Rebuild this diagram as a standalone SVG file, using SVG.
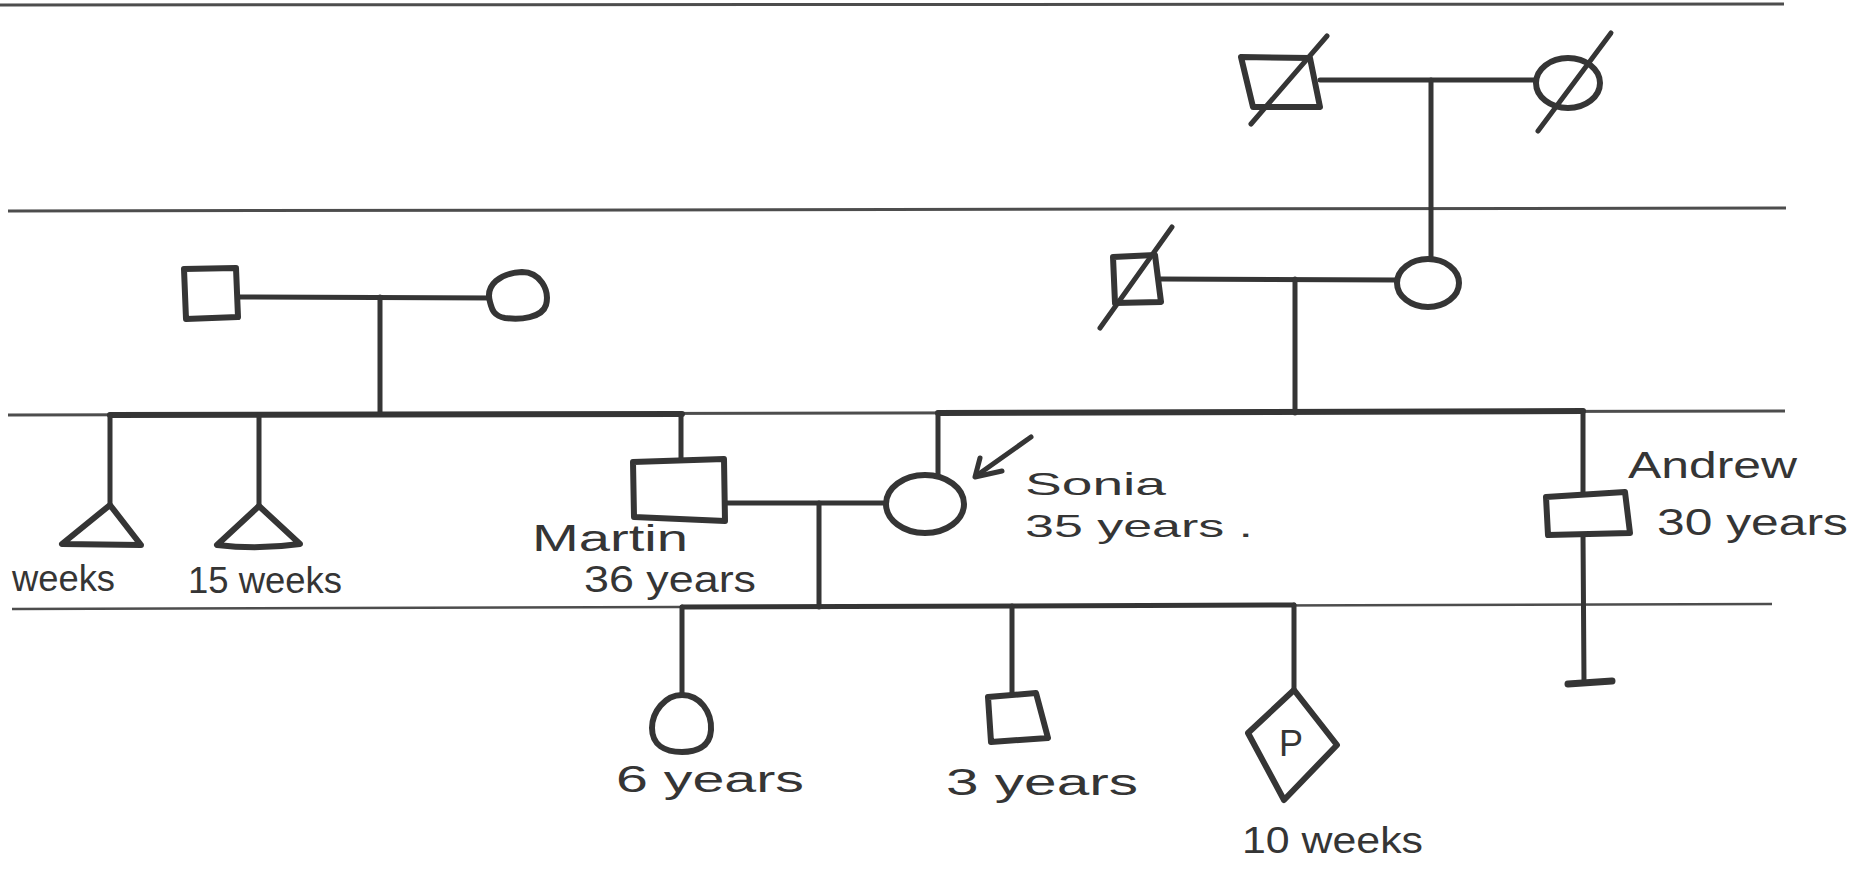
<svg xmlns="http://www.w3.org/2000/svg" width="1864" height="872" viewBox="0 0 1864 872">
<style>
.rule{stroke:#4d4d4d;stroke-width:2.5;fill:none}
.ln{stroke:#353535;stroke-width:5;fill:none;stroke-linecap:round;stroke-linejoin:round}
.sym{fill:#fff;stroke:#353535;stroke-width:6;stroke-linejoin:round;stroke-linecap:round}
.dead{stroke:#353535;stroke-width:5;stroke-linecap:round}
.txt{font-family:"Liberation Sans",Arial,sans-serif;font-size:36px;fill:#353535}
</style>
<rect width="1864" height="872" fill="#fff"/>
<g id="rules">
<line class="rule" x1="0" y1="5" x2="1784" y2="4" style="stroke-width:3"/>
<line class="rule" x1="8" y1="211" x2="1786" y2="208" style="stroke-width:3"/>
<line class="rule" x1="8" y1="415" x2="1785" y2="411" style="stroke-width:3"/>
<line class="rule" x1="12" y1="609" x2="1772" y2="604"/>
</g>
<g id="connectors">
<line class="ln" x1="1320" y1="80" x2="1540" y2="80"/>
<line class="ln" x1="1431" y1="80" x2="1431" y2="260"/>
<line class="ln" x1="237" y1="297" x2="495" y2="298"/>
<line class="ln" x1="380" y1="297" x2="380" y2="413"/>
<line class="ln" x1="1161" y1="279" x2="1398" y2="280"/>
<line class="ln" x1="1295" y1="279" x2="1295" y2="413"/>
<line class="ln" x1="110" y1="415" x2="682" y2="414" style="stroke-width:6"/>
<line class="ln" x1="110" y1="415" x2="110" y2="505"/>
<line class="ln" x1="259" y1="415" x2="259" y2="506"/>
<line class="ln" x1="681" y1="414" x2="681" y2="470"/>
<line class="ln" x1="938" y1="413" x2="1583" y2="411" style="stroke-width:6"/>
<line class="ln" x1="938" y1="413" x2="938" y2="478"/>
<line class="ln" x1="1583" y1="411" x2="1583" y2="495"/>
<line class="ln" x1="1583" y1="534" x2="1584" y2="682"/>
<line class="ln" x1="1568" y1="684" x2="1612" y2="681" style="stroke-width:7"/>
<line class="ln" x1="724" y1="503" x2="886" y2="503"/>
<line class="ln" x1="819" y1="503" x2="819" y2="607"/>
<line class="ln" x1="682" y1="607" x2="1294" y2="605" style="stroke-width:5"/>
<line class="ln" x1="682" y1="607" x2="682" y2="695"/>
<line class="ln" x1="1012" y1="606" x2="1012" y2="697"/>
<line class="ln" x1="1294" y1="605" x2="1294" y2="690"/>
<g id="proband-arrow">
<line class="ln" x1="1031" y1="437" x2="976" y2="476"/>
<polyline class="ln" points="980,458 975,477 1002,471"/>
</g>
</g>
<g id="gp-male">
<polygon class="sym" points="1241,57 1310,58 1320,107 1253,107"/>
<line class="dead" x1="1251" y1="124" x2="1327" y2="36"/>
</g>
<g id="gp-female">
<ellipse class="sym" cx="1568" cy="83" rx="32" ry="25"/>
<line class="dead" x1="1538" y1="131" x2="1611" y2="33"/>
</g>
<g id="left-father">
<polygon class="sym" points="184,269 236,268 238,317 186,319"/>
</g>
<g id="left-mother">
<path class="sym" d="M490,302 C485,285 500,273 522,272 C540,272 550,290 546,305 C542,318 520,320 505,318 C494,316 492,310 490,302 Z"/>
</g>
<g id="right-father">
<polygon class="sym" points="1113,257 1155,255 1161,302 1115,303"/>
<line class="dead" x1="1100" y1="328" x2="1172" y2="227"/>
</g>
<g id="right-mother">
<ellipse class="sym" cx="1428" cy="283" rx="31" ry="24"/>
</g>
<g id="miscarriage-1">
<path class="sym" d="M110,505 L62,544 L141,545 Z"/>
<text class="txt" x="12" y="591" textLength="103" lengthAdjust="spacingAndGlyphs">weeks</text>
</g>
<g id="miscarriage-2">
<path class="sym" d="M259,506 L217,545 Q258,550 300,544 Z"/>
<text class="txt" x="188" y="593" textLength="154" lengthAdjust="spacingAndGlyphs">15 weeks</text>
</g>
<g id="martin">
<polygon class="sym" points="633,462 724,459 725,521 634,517"/>
<text class="txt" x="532" y="551" textLength="156" lengthAdjust="spacingAndGlyphs">Martin</text>
<text class="txt" x="584" y="592" textLength="172" lengthAdjust="spacingAndGlyphs">36 years</text>
</g>
<g id="sonia">
<ellipse class="sym" cx="925" cy="504" rx="39" ry="29"/>
<text class="txt" x="1025" y="495" textLength="141" lengthAdjust="spacingAndGlyphs" style="font-size:32px">Sonia</text>
<text class="txt" x="1025" y="537" textLength="228" lengthAdjust="spacingAndGlyphs" style="font-size:32px">35 years .</text>
</g>
<g id="andrew">
<polygon class="sym" points="1546,497 1625,492 1630,533 1548,535"/>
<text class="txt" x="1628" y="478" textLength="169" lengthAdjust="spacingAndGlyphs">Andrew</text>
<text class="txt" x="1657" y="535" textLength="191" lengthAdjust="spacingAndGlyphs">30 years</text>
</g>
<g id="child-daughter">
<path class="sym" d="M682,695 C700,695 712,712 711,730 C710,748 695,752 682,752 C665,752 652,745 652,728 C652,712 665,695 682,695 Z"/>
<text class="txt" x="616" y="792" textLength="188" lengthAdjust="spacingAndGlyphs">6 years</text>
</g>
<g id="child-son">
<polygon class="sym" points="988,697 1036,693 1048,738 991,742"/>
<text class="txt" x="946" y="795" textLength="192" lengthAdjust="spacingAndGlyphs">3 years</text>
</g>
<g id="pregnancy">
<polygon class="sym" points="1294,690 1337,745 1284,800 1248,733"/>
<text class="txt" x="1291" y="756" text-anchor="middle" style="font-size:36px">P</text>
<text class="txt" x="1242" y="853" textLength="181" lengthAdjust="spacingAndGlyphs">10 weeks</text>
</g>
</svg>
